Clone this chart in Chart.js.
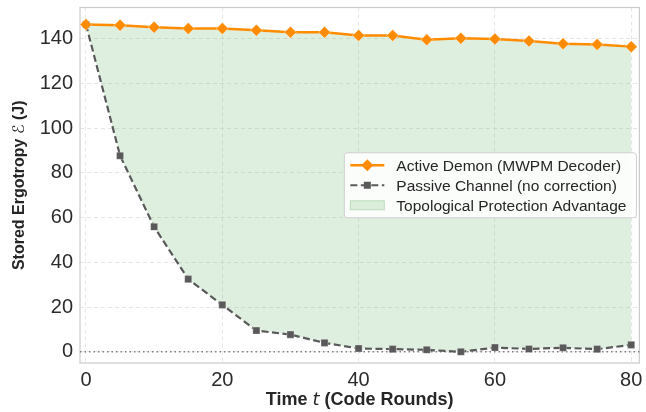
<!DOCTYPE html>
<html><head><meta charset="utf-8">
<script src="https://cdn.jsdelivr.net/npm/chart.js@4/dist/chart.umd.min.js"></script>
<style>html,body{margin:0;padding:0;background:#fff;}#c{display:block;}</style>
</head><body>
<canvas id="c" width="646" height="412"></canvas>
<script>
const rounds = [0,5,10,15,20,25,30,35,40,45,50,55,60,65,70,75,80];
const activeDemon = [146.4,146.1,145.2,144.6,144.6,143.8,142.9,142.9,141.5,141.5,139.6,140.2,139.9,139.0,137.8,137.5,136.5];
const passiveChannel = [146.4,87.7,55.9,32.5,21.0,9.5,7.7,4.0,1.5,1.2,0.9,0.0,1.9,1.3,1.8,1.2,3.1];
const xTicks = [0,20,40,60,80];
const yTicks = [0,20,40,60,80,100,120,140];
const seriesLabels = ['Active Demon (MWPM Decoder)','Passive Channel (no correction)','Topological Protection Advantage'];
const xTitleRuns = [['Time ','b'],['t','i'],[' (Code Rounds)','b']];
const yTitleRuns = [['Stored Ergotropy ','b'],['\u2130','i'],[' (J)','b']];

const ORANGE = '#ff8c00', GRAY = '#595959', GREEN = 'rgba(96,176,96,0.2)';
const SANS = '"Liberation Sans", Arial, sans-serif';
const pts = arr => rounds.map((r,i)=>({x:r,y:arr[i]}));

function drawRuns(ctx, runs, size, cx, cy){
  const fonts = runs.map(r => r[1]==='b' ? `bold ${size}px ${SANS}` : `italic ${size}px "DejaVu Sans", sans-serif`);
  let total = 0; const ws = [];
  runs.forEach((r,i)=>{ctx.font=fonts[i]; const w=ctx.measureText(r[0]).width; ws.push(w); total+=w;});
  let x = cx - total/2;
  ctx.textAlign='left'; ctx.textBaseline='alphabetic';
  runs.forEach((r,i)=>{ctx.font=fonts[i]; ctx.fillText(r[0], x, cy); x+=ws[i];});
}

const decor = {
  id:'decor',
  beforeDatasetsDraw(chart){
    const {ctx, chartArea:a, scales:{y}} = chart;
    ctx.save();
    ctx.strokeStyle='#cccccc'; ctx.lineWidth=1.25; ctx.setLineDash([]);
    ctx.strokeRect(a.left, a.top, a.right-a.left, a.bottom-a.top);
    const py = y.getPixelForValue(0);
    ctx.strokeStyle='#808080'; ctx.lineWidth=1.5; ctx.setLineDash([1.5,3]);
    ctx.beginPath(); ctx.moveTo(a.left,py); ctx.lineTo(a.right,py); ctx.stroke();
    ctx.restore();
  },
  afterDraw(chart){
    const {ctx, chartArea:a} = chart;
    ctx.save();
    ctx.fillStyle='#262626';
    drawRuns(ctx, xTitleRuns, 18, (a.left+a.right)/2, 405);
    ctx.save(); ctx.translate(24, (a.top+a.bottom)/2); ctx.rotate(-Math.PI/2);
    drawRuns(ctx, yTitleRuns, 16, 0, 0);
    ctx.restore();
    // legend
    const fs = 15.5;
    ctx.font = `${fs}px ${SANS}`;
    const tw = Math.max(...seriesLabels.map(s=>ctx.measureText(s).width));
    const hw = 34, w = 6 + hw + 12 + tw + 10, h = 65;
    const x0 = a.right - 3 - w, y0 = (a.top+a.bottom)/2 - h/2;
    ctx.beginPath();
    if (ctx.roundRect) ctx.roundRect(x0,y0,w,h,3); else ctx.rect(x0,y0,w,h);
    ctx.fillStyle='rgba(255,255,255,0.9)'; ctx.fill();
    ctx.strokeStyle='#cfcfcf'; ctx.lineWidth=1; ctx.stroke();
    const hx = x0+6, tx = hx+hw+12;
    seriesLabels.forEach((lab,i)=>{
      const cy = y0 + 12.5 + i*20;
      if (i===0){
        ctx.strokeStyle=ORANGE; ctx.lineWidth=2.5; ctx.setLineDash([]);
        ctx.beginPath(); ctx.moveTo(hx,cy); ctx.lineTo(hx+hw,cy); ctx.stroke();
        ctx.fillStyle=ORANGE; ctx.beginPath();
        const r=6, mx=hx+hw/2; ctx.moveTo(mx,cy-r); ctx.lineTo(mx+r,cy); ctx.lineTo(mx,cy+r); ctx.lineTo(mx-r,cy); ctx.closePath(); ctx.fill();
      } else if (i===1){
        ctx.strokeStyle=GRAY; ctx.lineWidth=2.2; ctx.setLineDash([7,3.5]);
        ctx.beginPath(); ctx.moveTo(hx,cy); ctx.lineTo(hx+hw,cy); ctx.stroke(); ctx.setLineDash([]);
        ctx.fillStyle=GRAY; const s=3.5, mx=hx+hw/2; ctx.fillRect(mx-s,cy-s,2*s,2*s);
      } else {
        ctx.fillStyle=GREEN; ctx.fillRect(hx,cy-4.5,hw,9);
        ctx.strokeStyle='rgba(96,176,96,0.35)'; ctx.lineWidth=1; ctx.strokeRect(hx,cy-4.5,hw,9);
      }
      ctx.fillStyle='#262626'; ctx.font=`${fs}px ${SANS}`; ctx.textAlign='left'; ctx.textBaseline='middle';
      ctx.fillText(lab, tx, cy+1);
    });
    ctx.restore();
  }
};

Chart.defaults.font.family = SANS;
new Chart(document.getElementById('c'), {
  type:'line',
  data:{datasets:[
    {label:seriesLabels[0], data:pts(activeDemon), borderColor:ORANGE, backgroundColor:ORANGE, borderWidth:2.5,
     pointStyle:'rectRot', pointRadius:6, pointBorderColor:'rgba(255,255,255,0.7)', pointBorderWidth:0.6, pointBackgroundColor:ORANGE,
     fill:false, tension:0, order:0},
    {label:seriesLabels[1], data:pts(passiveChannel), borderColor:GRAY, backgroundColor:GRAY, borderWidth:2.2, borderDash:[7,3.5],
     pointStyle:'rect', pointRadius:5, pointBorderColor:'rgba(255,255,255,0.6)', pointBorderWidth:0.5, pointBackgroundColor:GRAY,
     fill:false, tension:0, order:1},
    {label:seriesLabels[2], data:pts(activeDemon), borderWidth:0, borderColor:'rgba(0,0,0,0)', pointRadius:0,
     backgroundColor:GREEN, fill:1, tension:0, order:2}
  ]},
  options:{
    responsive:false, animation:false, devicePixelRatio:1,
    layout:{padding:{top:7.5,right:0,left:0,bottom:0}},
    plugins:{legend:{display:false}, tooltip:{enabled:false}},
    scales:{
      x:{type:'linear', min:-0.88, max:81.2,
         afterBuildTicks:s=>{s.ticks=xTicks.map(v=>({value:v}));},
         afterFit:s=>{s.height=49; s.paddingLeft=0; s.paddingRight=0;},
         grid:{color:'#e6e6e6', lineWidth:1, drawTicks:false},
         border:{display:false, dash:[4,3]},
         ticks:{padding:5, color:'#2b2b2b', font:{size:20}}},
      y:{type:'linear', min:-5, max:154,
         afterBuildTicks:s=>{s.ticks=yTicks.map(v=>({value:v}));},
         afterFit:s=>{s.width=80; s.paddingTop=0; s.paddingBottom=0;},
         grid:{color:'#e6e6e6', lineWidth:1, drawTicks:false},
         border:{display:false, dash:[4,3]},
         ticks:{padding:7, color:'#2b2b2b', font:{size:20}}}
    }
  },
  plugins:[decor]
});
</script>
</body></html>
